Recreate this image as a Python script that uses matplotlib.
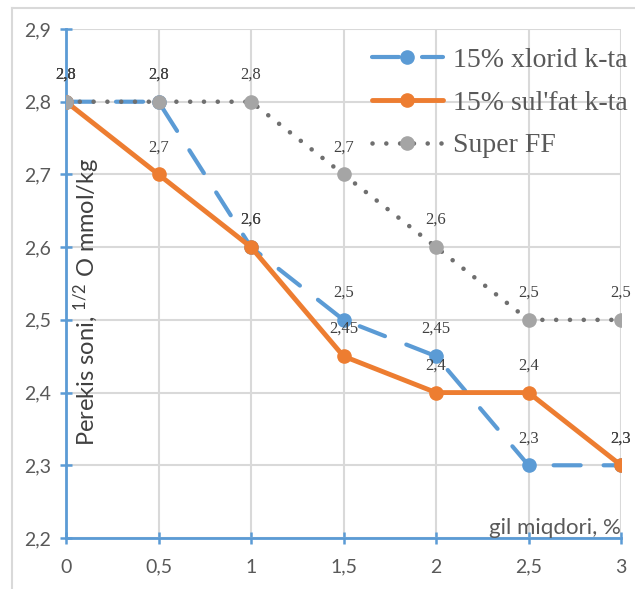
import matplotlib
matplotlib.use("Agg")
import matplotlib.pyplot as plt
from matplotlib.lines import Line2D

# gil miqdori, %
clay_pct = [0, 0.5, 1, 1.5, 2, 2.5, 3]

# Perekis soni, 1/2 O mmol/kg
chloride = [2.8, 2.8, 2.6, 2.5, 2.45, 2.3, 2.3]
sulfate = [2.8, 2.7, 2.6, 2.45, 2.4, 2.4, 2.3]
super_ff = [2.8, 2.8, 2.8, 2.7, 2.6, 2.5, 2.5]

series_names = ["15% xlorid k-ta", "15% sul'fat k-ta", "Super FF"]
y_ticks = [2.2, 2.3, 2.4, 2.5, 2.6, 2.7, 2.8, 2.9]
x_ticks = [0, 0.5, 1, 1.5, 2, 2.5, 3]

BLUE = "#5B9BD5"
ORANGE = "#ED7D31"
GREY_MARK = "#A5A5A5"
GREY_DOT = "#6F6F6F"
GRID = "#D9D9D9"
TICK_TXT = "#595959"
LABEL_TXT = "#404040"

SANS = ["Lato", "DejaVu Sans"]
SERIF = ["Liberation Serif", "DejaVu Serif"]


def fmt(v):
    return f"{v:g}".replace(".", ",")


fig = plt.figure(figsize=(6.35, 5.89), dpi=100)
ax = fig.add_axes([66 / 635, 1 - 538 / 589, (621 - 66) / 635, (538 - 29) / 589])

# outer chart border (left and top edges)
fig.add_artist(Line2D([12 / 635, 12 / 635], [0, 1 - 8 / 589],
                      transform=fig.transFigure, color=GRID, lw=1.5))
fig.add_artist(Line2D([12 / 635, 1], [1 - 8 / 589, 1 - 8 / 589],
                      transform=fig.transFigure, color=GRID, lw=1.5))

ax.plot(clay_pct, chloride, color=BLUE, lw=3, marker="o", ms=9.5,
        linestyle=(0, (6.5, 5.5)), dash_capstyle="round",
        label=series_names[0], zorder=3)
ax.plot(clay_pct, sulfate, color=ORANGE, lw=3.5, marker="o", ms=9.5,
        solid_capstyle="round", label=series_names[1], zorder=4)
ax.plot(clay_pct, super_ff, color=GREY_DOT, lw=3.3, marker="o", ms=9.5,
        mfc=GREY_MARK, mec=GREY_MARK,
        linestyle=(0, (0.01, 3.0)), dash_capstyle="round",
        label=series_names[2], zorder=5)

# value labels above each point
for ys in (chloride, sulfate, super_ff):
    for x, y in zip(clay_pct, ys):
        ax.annotate(fmt(y), (x, y), xytext=(0, 19.5), textcoords="offset points",
                    ha="center", va="center", fontsize=12, family=SERIF,
                    color=LABEL_TXT, zorder=6)

ax.set_xlim(0, 3)
ax.set_ylim(2.2, 2.9)
ax.set_xticks(x_ticks)
ax.set_yticks(y_ticks)
ax.set_xticklabels([fmt(v) for v in x_ticks])
ax.set_yticklabels([fmt(v) for v in y_ticks])
for lab in ax.get_xticklabels() + ax.get_yticklabels():
    lab.set_family(SANS)
ax.tick_params(direction="inout", length=8, width=1.8, color=BLUE,
               labelsize=14, labelcolor=TICK_TXT)
ax.tick_params(axis="y", pad=7)
ax.tick_params(axis="x", pad=11)

ax.grid(True, color=GRID, lw=1.5, zorder=0)
ax.set_axisbelow(True)
for side in ("top", "right"):
    ax.spines[side].set_visible(False)
for side in ("left", "bottom"):
    ax.spines[side].set_color(BLUE)
    ax.spines[side].set_linewidth(2)
    ax.spines[side].set_zorder(2.5)

fig.text(87 / 635, 1 - 302 / 589,
         r"Perekis soni, $\mathregular{^{1/2}}$ O mmol/kg",
         rotation=90, ha="center", va="center", fontsize=17,
         family=SANS, color=LABEL_TXT)
fig.text(621 / 635, 1 - 528 / 589, "gil miqdori, %", ha="right", va="center",
         fontsize=16, family=SANS, color=TICK_TXT)

leg = ax.legend(loc="center left", bbox_to_anchor=(372 / 635, 1 - 103 / 589),
                bbox_transform=fig.transFigure, frameon=False,
                prop={"family": SERIF, "size": 20}, handlelength=2.55,
                handletextpad=0.35, labelspacing=0.62, borderpad=0,
                borderaxespad=0)
for t in leg.get_texts():
    t.set_color(TICK_TXT)

fig.savefig("out.png", dpi=100)
